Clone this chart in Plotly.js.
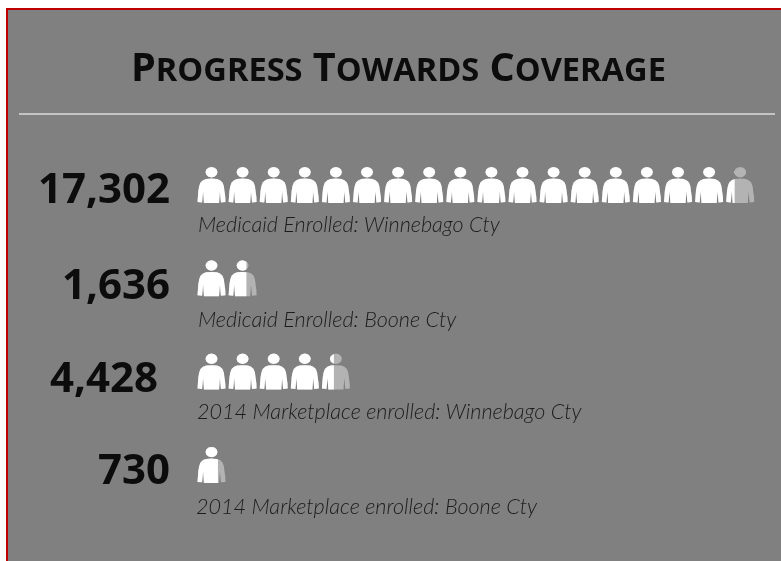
<!DOCTYPE html>
<html><head><meta charset="utf-8">
<script src="https://cdn.plot.ly/plotly-3.0.1.min.js"></script>
<style>html,body{margin:0;padding:0;background:#fff;overflow:hidden}#c{width:781px;height:561px;filter:blur(0.6px)}</style>
</head><body><div id="c"></div>
<script>
// Data
const values = [17302, 1636, 4428, 730];
const labels = ["Medicaid Enrolled: Winnebago Cty","Medicaid Enrolled: Boone Cty","2014 Marketplace enrolled: Winnebago Cty","2014 Marketplace enrolled: Boone Cty"];
const peoplePerIcon = 1000;
const titleText = "Progress Towards Coverage";

// Layout metrics (pixels)
const W = 781, H = 561;
const iconStepX = 31.1, rowStepY = 93.3, firstIconX = 211.5, firstRowY = 203;
const numberRight = [170, 170, 158, 170];
const numberY = [186, 282, 375, 467];
const labelX = [198, 198, 197, 196], labelY = [224, 319, 411, 506];

// Icon outline, in pixels relative to bottom centre of the icon
const halfW = 14;
const bodyPx = [[-14,1],[-13.8,6],[-13.2,12],[-12.3,17],[-11,20.5],[-8.5,22.8],[-5.5,24],[0,24.4],[5.5,24],[8.5,22.8],[11,20.5],[12.3,17],[13.2,12],[13.8,6],[14,1],[9.4,0.6],[8.4,11.5],[7.6,0],[-7.6,0],[-8.4,11.5],[-9.4,0.6]];
const headPx = [[0,36],[3,35.3],[5.2,33.4],[6,30.8],[5.2,28.2],[3,26.3],[0,25.6],[-3,26.3],[-5.2,28.2],[-6,30.8],[-5.2,33.4],[-3,35.3]];

function clipRight(poly, lim){
  const out=[];
  for(let i=0;i<poly.length;i++){
    const a=poly[i], b=poly[(i+1)%poly.length];
    const ai=a[0]<=lim, bi=b[0]<=lim;
    if(ai) out.push(a);
    if(ai!==bi){const t=(lim-a[0])/(b[0]-a[0]); out.push([lim,a[1]+t*(b[1]-a[1])]);}
  }
  return out;
}
function addIcon(xs, ys, col, row, frac){
  [bodyPx, headPx].forEach(p=>{
    const q = frac>=1 ? p : clipRight(p, -halfW+2*halfW*frac);
    if(!q.length) return;
    q.concat([q[0]]).forEach(pt=>{ xs.push(col+pt[0]/iconStepX); ys.push(row-pt[1]/rowStepY); });
    xs.push(null); ys.push(null);
  });
}
const baseX=[],baseY=[],fillX=[],fillY=[];
values.forEach((v,row)=>{
  const n=v/peoplePerIcon, count=Math.ceil(n);
  for(let i=0;i<count;i++){
    addIcon(baseX,baseY,i,row,1);
    addIcon(fillX,fillY,i,row,Math.min(1,n-i));
  }
});
const mk=(x,y,c)=>({x,y,type:'scatter',mode:'lines',fill:'toself',fillcolor:c,line:{width:0,color:c},hoverinfo:'skip',showlegend:false});

const title = titleText.split(' ').map(w=>w[0].toUpperCase()+'<span style="font-size:32.6px">'+w.slice(1).toUpperCase()+'</span>').join(' ');
const annotations = [{xref:'paper',yref:'paper',x:398/W,y:1-66/H,xanchor:'center',yanchor:'middle',showarrow:false,text:'<b>'+title+'</b>',font:{family:'Open Sans',size:39.6,color:'#0c0c0c'}}];
values.forEach((v,i)=>{
  annotations.push({xref:'paper',yref:'paper',x:numberRight[i]/W,y:1-numberY[i]/H,xanchor:'right',yanchor:'middle',showarrow:false,xshift:2,text:'<b>'+v.toLocaleString('en-US')+'</b>',font:{family:'Open Sans',size:42,color:'#0c0c0c'}});
  annotations.push({xref:'paper',yref:'paper',x:labelX[i]/W,y:1-labelY[i]/H,xanchor:'left',yanchor:'middle',showarrow:false,xshift:-2,text:'<i>'+labels[i]+'</i>',font:{family:'Lato',size:21.6,weight:300,color:'#1c1c1c'}});
});

Plotly.newPlot('c',[mk(baseX,baseY,'#b3b3b3'),mk(fillX,fillY,'#ffffff')],{
  width:W,height:H,margin:{l:0,r:0,t:0,b:0},paper_bgcolor:'#ffffff',plot_bgcolor:'rgba(0,0,0,0)',showlegend:false,
  xaxis:{visible:false,fixedrange:true,range:[-firstIconX/iconStepX,(W-firstIconX)/iconStepX]},
  yaxis:{visible:false,fixedrange:true,range:[(H-firstRowY)/rowStepY,-firstRowY/rowStepY]},
  shapes:[
    {type:'rect',xref:'paper',yref:'paper',x0:7/W,x1:1.01,y0:-0.01,y1:1-9/H,fillcolor:'#808080',line:{color:'#c00000',width:2},layer:'below'},
    {type:'line',xref:'paper',yref:'paper',x0:19/W,x1:775/W,y0:1-114/H,y1:1-114/H,line:{color:'#c4c4c4',width:2},layer:'below'}
  ],
  annotations
},{displayModeBar:false,staticPlot:true});
</script></body></html>
